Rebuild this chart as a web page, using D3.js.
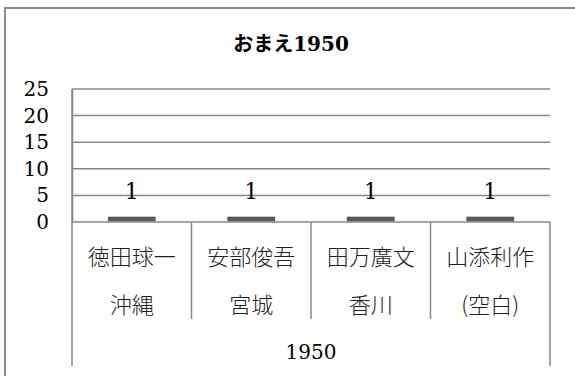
<!DOCTYPE html>
<html>
<head>
<meta charset="utf-8">
<script src="https://cdn.jsdelivr.net/npm/d3@7"></script>
<style>
  html, body { margin: 0; padding: 0; background: #fff; }
  svg { display: block; }
</style>
</head>
<body>
<svg id="chart" width="575" height="376"></svg>
<script>
const title = "おまえ1950";
const groupLabels = ["1950"];
const names = ["徳田球一", "安部俊吾", "田万廣文", "山添利作"];
const prefectures = ["沖縄", "宮城", "香川", "(空白)"];
const values = [1, 1, 1, 1];
const yTicks = [0, 5, 10, 15, 20, 25];

(function () {
const svg = d3.select("#chart");
const numFont = "'DejaVu Serif', 'Noto Sans CJK JP', serif";
const cjkFont = "'Noto Sans CJK JP', 'DejaVu Serif', sans-serif";
const gridColor = "#878787";

// outer chart frame
svg.append("rect")
  .attr("x", 5).attr("y", 8).attr("width", 585).attr("height", 400)
  .attr("fill", "#fff").attr("stroke", "#8a8a8a").attr("stroke-width", 2);

// title
svg.append("text")
  .attr("x", 291).attr("y", 51)
  .attr("text-anchor", "middle")
  .attr("font-family", numFont)
  .attr("font-weight", "bold")
  .attr("font-size", 20)
  .attr("fill", "#000")
  .text(title);

const pLeft = 72, pRight = 550, pTop = 89, pBottom = 222;
const x = d3.scaleBand().domain(names).range([pLeft, pRight]).paddingInner(0).paddingOuter(0);
const y = d3.scaleLinear().domain([0, 25]).range([pBottom, pTop]);

// gridlines
svg.append("g").selectAll("line").data(yTicks).join("line")
  .attr("x1", pLeft).attr("x2", pRight)
  .attr("y1", d => y(d)).attr("y2", d => y(d))
  .attr("stroke", gridColor).attr("stroke-width", 1.5);

// y axis
const yAxis = svg.append("g")
  .attr("transform", `translate(${pLeft},0)`)
  .call(d3.axisLeft(y).tickValues(yTicks).tickSize(0).tickPadding(23).tickFormat(d3.format("d")));
yAxis.select(".domain").attr("stroke", gridColor).attr("stroke-width", 1.5);
yAxis.selectAll("text")
  .attr("font-family", numFont).attr("font-size", 20).attr("fill", "#000");

// y-axis line extended through category area
svg.append("line")
  .attr("x1", pLeft).attr("x2", pLeft).attr("y1", pTop).attr("y2", 366)
  .attr("stroke", gridColor).attr("stroke-width", 1.5);
svg.append("line")
  .attr("x1", pRight).attr("x2", pRight).attr("y1", pBottom).attr("y2", 366)
  .attr("stroke", gridColor).attr("stroke-width", 1.5);

// separators between categories
svg.append("g").selectAll("line").data(names.slice(1)).join("line")
  .attr("x1", d => x(d)).attr("x2", d => x(d))
  .attr("y1", pBottom).attr("y2", 319)
  .attr("stroke", gridColor).attr("stroke-width", 1.5);

// bars
const bw = x.bandwidth();
svg.append("g").selectAll("rect").data(values).join("rect")
  .attr("x", (d, i) => x(names[i]) + bw * 0.3)
  .attr("width", bw * 0.4)
  .attr("y", d => y(d))
  .attr("height", d => y(0) - y(d) - 0.75)
  .attr("fill", "#595959");

// data labels
svg.append("g").selectAll("text").data(values).join("text")
  .attr("x", (d, i) => x(names[i]) + bw / 2)
  .attr("y", d => y(d) - 18)
  .attr("text-anchor", "middle")
  .attr("font-family", numFont)
  .attr("font-size", 22)
  .attr("fill", "#000")
  .text(d => d);

// category labels
svg.append("g").selectAll("text").data(names).join("text")
  .attr("x", d => x(d) + bw / 2)
  .attr("y", 255)
  .attr("dominant-baseline", "central")
  .attr("text-anchor", "middle")
  .attr("font-family", cjkFont)
  .attr("font-size", 22)
  .attr("font-weight", 300)
  .attr("fill", "#222")
  .text(d => d);

svg.append("g").selectAll("text").data(prefectures).join("text")
  .attr("x", (d, i) => x(names[i]) + bw / 2)
  .attr("y", 303)
  .attr("dominant-baseline", "central")
  .attr("text-anchor", "middle")
  .attr("font-family", cjkFont)
  .attr("font-size", 22)
  .attr("font-weight", 300)
  .attr("fill", "#222")
  .text(d => d);

svg.append("g").selectAll("text").data(groupLabels).join("text")
  .attr("x", (pLeft + pRight) / 2)
  .attr("y", 359)
  .attr("text-anchor", "middle")
  .attr("font-family", numFont)
  .attr("font-size", 20)
  .attr("fill", "#000")
  .text(d => d);
})();
</script>
</body>
</html>
